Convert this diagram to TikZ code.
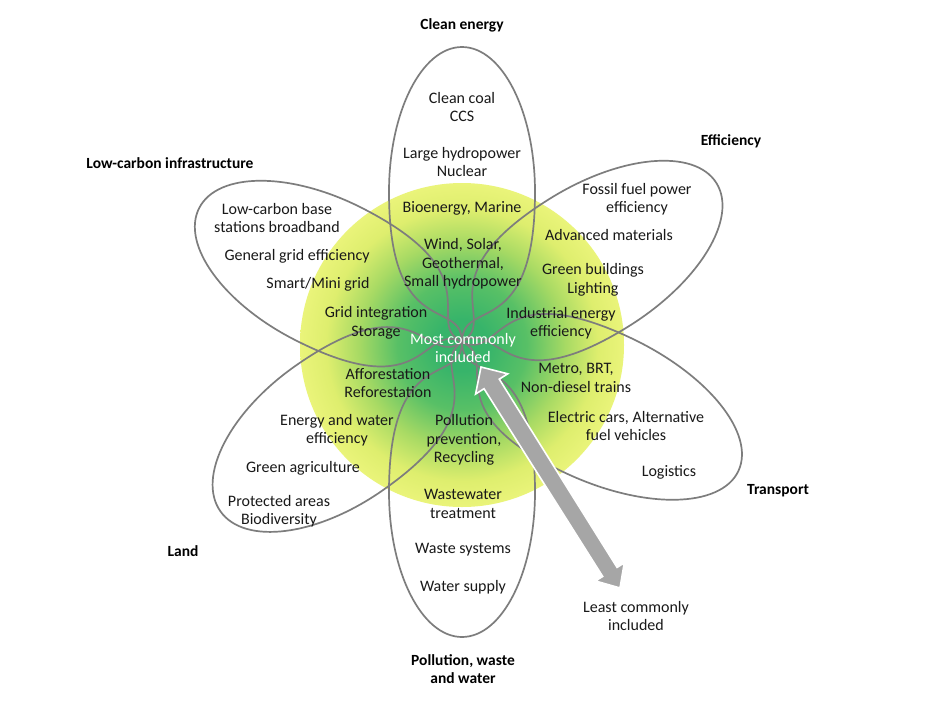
\documentclass[tikz,border=0pt]{standalone}
\usepackage{fontspec}
\setmainfont{Carlito}
\usetikzlibrary{calc}
\definecolor{petalgray}{RGB}{125,125,125}
\definecolor{arrowgray}{RGB}{166,166,166}
\definecolor{cgreen}{RGB}{55,180,106}
\definecolor{cgreen2}{RGB}{88,192,102}
\definecolor{clight}{RGB}{168,218,100}
\definecolor{cyel}{RGB}{222,238,110}
\definecolor{cedge}{RGB}{234,244,122}
\pgfdeclareradialshading{flowershade}{\pgfpoint{0bp}{0bp}}{color(0bp)=(cgreen); color(4bp)=(cgreen); color(10bp)=(cgreen2); color(16bp)=(clight); color(21bp)=(cyel); color(25bp)=(cedge); color(50bp)=(cedge)}
\tikzset{
  lbl/.style={font=\fontsize{16}{18.5}\selectfont, align=center, inner sep=0pt, text=black!90},
  ttl/.style={font=\fontsize{15.5}{18.5}\selectfont\bfseries, align=center, inner sep=0pt, text=black},
  petalline/.style={draw=petalgray, line width=1.7pt},
}
\newcommand\flowerpetal[3]{%
  \begin{scope}[shift={(462,342)}, x=1pt, y=1pt, rotate=#1]
    \draw[petalline] (0,0) .. controls (45,0) and (0,#3) .. (150,#3)
      .. controls ({150+0.552*(#2-150)},#3) and (#2,{0.552*#3}) .. (#2,0)
      .. controls (#2,{-0.552*#3}) and ({150+0.552*(#2-150)},-#3) .. (150,-#3)
      .. controls (0,-#3) and (45,0) .. (0,0) -- cycle;
  \end{scope}}
\begin{document}
\begin{tikzpicture}[x=1pt,y=-1pt]
\fill[white] (0,0) rectangle (937,707);
\useasboundingbox (0,0) rectangle (937,707);
% central disc
\shade[shading=flowershade] (462,345) circle[radius=162pt];
% petals
\flowerpetal{90}{295}{73}
\flowerpetal{270}{295}{73}
\flowerpetal{153}{295}{74}
\flowerpetal{32}{300}{75}
\flowerpetal{215}{295}{76}
\flowerpetal{-25}{305}{75}
% arrow
\coordinate (mA) at (481,367);
\coordinate (mB) at (620,588);
\coordinate (hA) at ($(mA)!20pt!(mB)$);
\coordinate (hB) at ($(mB)!19pt!(mA)$);
\filldraw[fill=arrowgray, draw=white, line width=1.6pt, line join=miter]
  (mA) -- ($(hA)!19pt!90:(mB)$) -- ($(hA)!9pt!90:(mB)$) -- ($(hB)!8.5pt!-90:(mA)$)
  -- ($(hB)!17pt!-90:(mA)$) -- (mB) -- ($(hB)!17pt!90:(mA)$) -- ($(hB)!8.5pt!90:(mA)$)
  -- ($(hA)!9pt!-90:(mB)$) -- ($(hA)!19pt!-90:(mB)$) -- cycle;
% titles
\node[ttl] (tclean) at (462,25) {Clean energy};
\node[ttl] (teff) at (731,141) {Efficiency};
\node[ttl] (tlci) at (170,163) {Low-carbon infrastructure};
\node[ttl] (tland) at (183,551) {Land};
\node[ttl] (ttrans) at (778,491) {Transport};
\node[ttl] (tpoll) at (463,669) {Pollution, waste\\and water};
% clean energy
\node[lbl] (c1) at (462,107) {Clean coal\\CCS};
\node[lbl] (c2) at (462,162) {Large hydropower\\Nuclear};
\node[lbl] (c3) at (462,208) {Bioenergy, Marine};
\node[lbl] (c4) at (463,264) {Wind, Solar,\\Geothermal,\\Small hydropower};
% efficiency
\node[lbl] (e1) at (637,199) {Fossil fuel power\\efficiency};
\node[lbl] (e2) at (609,235) {Advanced materials};
\node[lbl] (e3) at (593,280) {Green buildings\\Lighting};
\node[lbl] (e4) at (561,323) {Industrial energy\\efficiency};
% low-carbon infrastructure
\node[lbl] (l1) at (277,218) {Low-carbon base\\stations broadband};
\node[lbl] (l2) at (297,256) {General grid efficiency};
\node[lbl] (l3) at (318,284) {Smart/Mini grid};
\node[lbl] (l4) at (376,323) {Grid integration\\Storage};
% land
\node[lbl] (d1) at (388,383) {Afforestation\\Reforestation};
\node[lbl] (d2) at (337,430) {Energy and water\\efficiency};
\node[lbl] (d3) at (303,468) {Green agriculture};
\node[lbl] (d4) at (279,511) {Protected areas\\Biodiversity};
% pollution
\node[lbl] (p1) at (464,440) {Pollution\\prevention,\\Recycling};
\node[lbl] (p2) at (463,504) {Wastewater\\treatment};
\node[lbl] (p3) at (463,550) {Waste systems};
\node[lbl] (p4) at (463,587) {Water supply};
% transport
\node[lbl] (r1) at (576,378) {Metro, BRT,\\Non-diesel trains};
\node[lbl] (r2) at (626,426) {Electric cars, Alternative\\fuel vehicles};
\node[lbl] (r3) at (669,472) {Logistics};
% centre and far end
\node[lbl, text=white] (most) at (463,348) {Most commonly\\included};
\node[lbl] (least) at (636,616) {Least commonly\\included};
\end{tikzpicture}
\end{document}
